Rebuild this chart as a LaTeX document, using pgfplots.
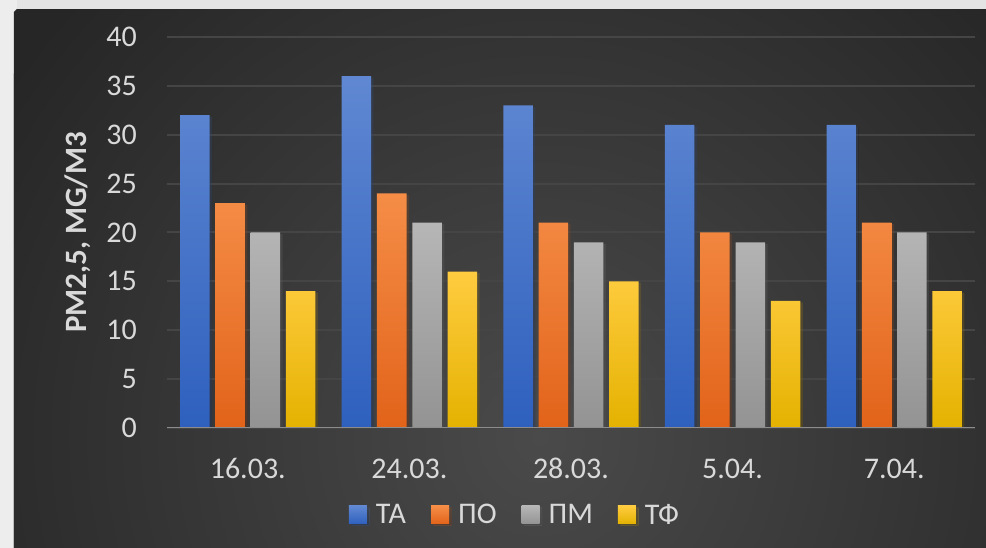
\documentclass[border=0pt]{standalone}
\usepackage{fontspec}
\setmainfont{Carlito}
\usepackage{pgfplots}
\usepackage{pgfplotstable}
\pgfplotsset{compat=1.18}
\usetikzlibrary{backgrounds,calc}

\definecolor{pageback}{HTML}{EDEDED}
\definecolor{pagetop}{HTML}{E4E4E4}
\definecolor{panelout}{HTML}{262626}
\definecolor{panelin}{HTML}{4A4A4A}
\definecolor{labelgray}{HTML}{D9D9D9}
\definecolor{gridgray}{HTML}{454545}
\definecolor{zeroline}{HTML}{8C8C8C}
\definecolor{taTop}{HTML}{6088D2}
\definecolor{taBot}{HTML}{2E60BE}
\definecolor{poTop}{HTML}{F58D47}
\definecolor{poBot}{HTML}{E2631A}
\definecolor{pmTop}{HTML}{B6B6B6}
\definecolor{pmBot}{HTML}{939393}
\definecolor{tfTop}{HTML}{FFCC40}
\definecolor{tfBot}{HTML}{E4B200}

% PM2.5 concentration per sampling date and site
\pgfplotstableread{
idx TA PO PM TF
0 32 23 20 14
1 36 24 21 16
2 33 21 19 15
3 31 20 19 13
4 31 21 20 14
}\pmdata

\begin{document}
\begin{tikzpicture}[x=1pt,y=1pt]
\begin{axis}[
  scale only axis, width=808pt, height=391pt,
  xmin=-0.5, xmax=4.5, ymin=0, ymax=40,
  ybar=5.8pt, bar width=29.5pt,
  every axis plot/.append style={
    draw=none,
    preaction={fill=black, fill opacity=0.18,
      transform canvas={shift={(2.5pt,-1.5pt)}}},
    legend image code/.code={\path[##1,draw=none] (0pt,-9pt) rectangle (18pt,9pt);}
  },
  xtick={0,...,4},
  xticklabels={16.03.,24.03.,28.03.,5.04.,7.04.},
  ytick={0,5,...,40},
  axis line style={draw=none},
  major tick length=0pt,
  ymajorgrids, grid style={gridgray, line width=2pt},
  /pgf/number format/assume math mode=true,
  tick label style={font=\fontsize{30}{36}\selectfont, text=labelgray},
  yticklabel style={anchor=east, inner sep=0pt, xshift=-30pt},
  xticklabel style={anchor=base, inner sep=0pt, yshift=-51pt},
  ylabel={PM2,5, MG/M3},
  ylabel style={font=\fontsize{31}{36}\selectfont\bfseries, text=labelgray,
    at={(axis description cs:-0.1101,0.5)}, anchor=center},
  legend columns=4,
  legend style={at={(axis description cs:0.4295,-0.2225)}, anchor=center,
    draw=none, fill=none, inner sep=0pt,
    font=\fontsize{30}{36}\selectfont, text=labelgray,
    nodes={inner sep=0pt},
    /tikz/every odd column/.append style={column sep=9pt},
    /tikz/every even column/.append style={column sep=25pt}},
]
\addplot[top color=taTop, bottom color=taBot] table[x=idx,y=TA]{\pmdata};
\addplot[top color=poTop, bottom color=poBot] table[x=idx,y=PO]{\pmdata};
\addplot[top color=pmTop, bottom color=pmBot] table[x=idx,y=PM]{\pmdata};
\addplot[top color=tfTop, bottom color=tfBot] table[x=idx,y=TF]{\pmdata};
\legend{ТА,ПО,ПМ,ТФ}
% horizontal category axis
\draw[zeroline, line width=2pt] (axis cs:-0.5,0) -- (axis cs:4.5,0);
\coordinate (boxSW) at (rel axis cs:0,0);
\end{axis}

% page frame around the plot box, and the dark chart panel behind it
\coordinate (pg) at ($(boxSW)+(-167,-120)$);
\pgfresetboundingbox
\useasboundingbox (pg) rectangle ++(986,548);
\begin{scope}[on background layer]
  \fill[pageback] (pg) rectangle ++(986,548);
  \begin{scope}
    \path[clip] ($(pg)+(14,0)$) -- ++(0,536) -- ++(3,3) -- ($(pg)+(986,539)$)
      -- ($(pg)+(986,0)$) -- cycle;
    \fill[panelout] (pg) rectangle ++(986,548);
    \shade[inner color=panelin, outer color=panelout] ($(pg)+(540,110)$) circle (640);
  \end{scope}
  \fill[pagetop] ($(pg)+(17,539)$) rectangle ($(pg)+(986,548)$);
\end{scope}
\end{tikzpicture}
\end{document}
